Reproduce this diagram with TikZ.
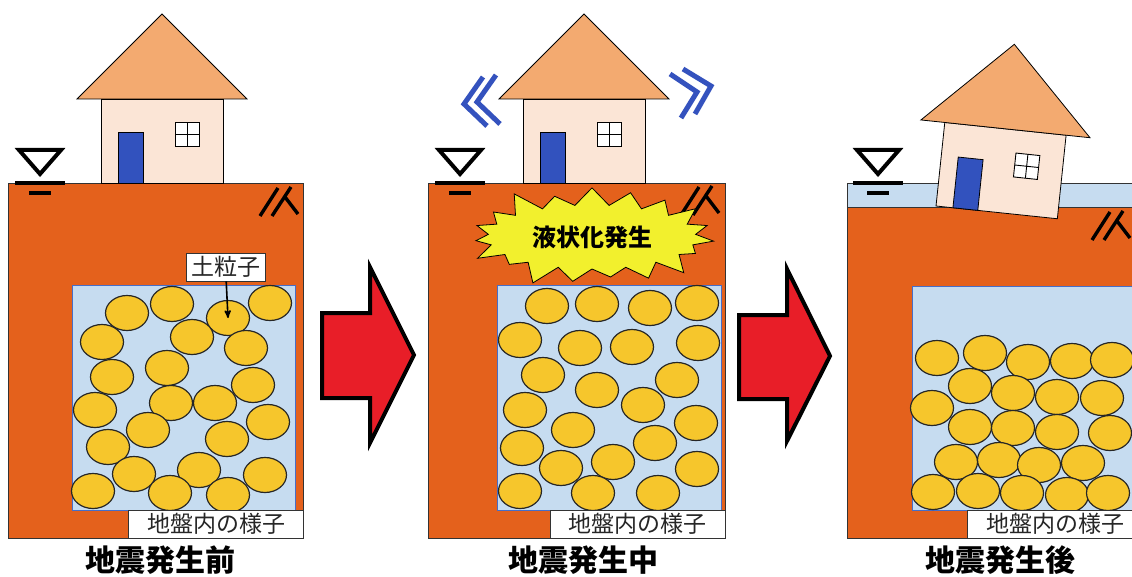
\documentclass[tikz,border=0pt]{standalone}
\usepackage{fontspec}
\newfontfamily\jp{Noto Sans CJK JP}
\usetikzlibrary{shapes.geometric}
\usetikzlibrary{shapes.symbols}
\usetikzlibrary{arrows}

\definecolor{soil}{RGB}{228,97,28}
\definecolor{porewater}{RGB}{198,220,240}
\definecolor{poreedge}{RGB}{70,110,200}
\definecolor{grainyellow}{RGB}{246,198,44}
\definecolor{wallpink}{RGB}{251,229,214}
\definecolor{roofpeach}{RGB}{243,170,112}
\definecolor{doorblue}{RGB}{50,82,190}
\definecolor{shakeblue}{RGB}{52,82,190}
\definecolor{arrowred}{RGB}{232,30,40}
\definecolor{burstyellow}{RGB}{242,240,45}

\tikzset{x=1pt, y=-1pt, % one unit is one pixel, y runs downwards
ground/.style={draw=black!80, fill=soil, line width=0.8pt},
pore/.style={draw=poreedge, fill=porewater, line width=0.8pt},
grain/.style={ % soil particles
ellipse, draw=black!85, fill=grainyellow, line width=1.2pt,
minimum width=43pt, minimum height=35pt, inner sep=0pt},
tag/.style={draw=black!80, fill=white, line width=0.8pt, inner sep=0pt,
minimum height=28pt, text=black!85, font=\jp\fontsize{23}{23}\selectfont},
caption/.style={font=\jp\bfseries\fontsize{30}{30}\selectfont},
pointer/.style={->, >=stealth', line width=1.6pt},
bigarrow/.style={draw=black, fill=arrowred, line width=4pt, line join=miter},
shake/.style={draw=shakeblue, line width=5pt, line join=miter},
burst/.style={starburst, starburst points=19, starburst point height=24pt,
draw=black, line width=0.8pt, fill=burstyellow, inner sep=0pt,
minimum width=256pt, minimum height=112pt,
font=\jp\bfseries\fontsize{24}{24}\selectfont},
wline/.style={line width=4pt, line join=miter},
hline/.style={line width=3.4pt},
house/.pic={ % origin = bottom left of the wall
\draw[fill=wallpink, line width=0.8pt] (0,0) rectangle (122,-84);
\draw[fill=roofpeach, line width=0.8pt] (-24,-84) -- (146,-84) -- (61,-169) -- cycle;
\draw[fill=doorblue, line width=0.8pt] (17,0) rectangle (42,-51);
\draw[fill=white, line width=0.9pt] (74,-37) rectangle (98,-61);
\draw[line width=0.9pt] (86,-37) -- (86,-61) (74,-49) -- (98,-49);
},
wlevel/.pic={ % water table mark
\draw[wline] (-21,-33) -- (21,-33) -- (0,-9) -- cycle;
\draw[wline] (-25,0) -- (25,0);
\draw[wline] (-11,10) -- (11,10);
},
hatch/.pic={
\draw[hline] (0,0) -- (18,-28);
\draw[hline] (12,0) -- (31,-29);
\draw[hline] (25,-19) -- (38,-2);
}}

\begin{document}
\begin{tikzpicture}
\useasboundingbox (0,0) rectangle (1132,577);
\fill[white] (0,0) rectangle (1132,577);
\clip (0,0) rectangle (1132,577);

% before
\draw[ground] (8,183) rectangle (303,538);
\draw[pore] (72,285) rectangle (295,510);
\foreach \x/\y [count=\i] in {127/313,172/304,270/303,228/318,102/342,192/337,
246/348,112/377,167/368,253/385,95/410,171/403,215/403,268/422,148/430,
227/439,108/447,134/474,199/470,265/475,93/491,170/493,228/495}
\node[grain] (a\i) at (\x,\y) {};
\node[tag, minimum width=175pt] (view1) at (216,524) {地盤内の様子};
\node[tag, minimum width=79pt] (soiltag) at (225.5,267) {土粒子};
\draw[pointer] (soiltag) -- (a4.center);
\pic at (260,216) {hatch};
\pic at (101,183) {house};
\pic at (40,183) {wlevel};
\node[caption] (t1) at (160,560) {地震発生前};

\draw[bigarrow] (322,313) -- (370,313) -- (370,267) -- (414,355) -- (370,443)
-- (370,398) -- (322,398) -- cycle;

% during
\draw[ground] (428,183) rectangle (725,538);
\draw[pore] (497,285) rectangle (721,510);
\foreach \x/\y [count=\i] in {547/306,597/304,650/308,697/303,520/340,580/348,
632/347,698/343,543/375,597/390,677/380,643/405,525/410,573/430,696/423,
655/443,522/448,561/468,613/462,697/469,520/491,593/493,658/493}
\node[grain] (b\i) at (\x,\y) {};
\node[tag, minimum width=175pt] (view2) at (637.5,524) {地盤内の様子};
\pic at (681,215) {hatch};
\node[burst] (liq) at (592,237) {液状化発生};
\pic at (523,183) {house};
\pic at (460,183) {wlevel};
\draw[shake] (483,77) -- (464,104) -- (487,126);
\draw[shake] (496,75) -- (477,102) -- (500,124);
\draw[shake] (670,74) -- (697,92) -- (681,118);
\draw[shake] (683,69) -- (711,86) -- (695,114);
\node[caption] (t2) at (583,560) {地震発生中};

\draw[bigarrow] (739,315) -- (787,315) -- (787,269) -- (830,356) -- (787,441)
-- (787,399) -- (739,399) -- cycle;

% after
\draw[pore, draw=black!80] (847,183) rectangle (1144,207);
\draw[ground] (847,207) rectangle (1144,538);
\draw[pore] (912,286) rectangle (1140,510);
\foreach \x/\y [count=\i] in {937/358,985/353,1028/362,1072/361,1112/360,
970/386,1013/393,1057/397,1102/398,932/408,970/427,1013/428,1057/432,
1110/433,956/462,999/460,1039/465,1083/463,933/492,978/491,1022/493,
1067/495,1108/493}
\node[grain] (c\i) at (\x,\y) {};
\node[tag, minimum width=177pt] (view3) at (1055.5,524) {地盤内の様子};
\pic at (1092,240) {hatch};
\pic[rotate=-6] at (936,206) {house};
\pic at (878,183) {wlevel};
\node[caption] (t3) at (1000,560) {地震発生後};
\end{tikzpicture}
\end{document}
